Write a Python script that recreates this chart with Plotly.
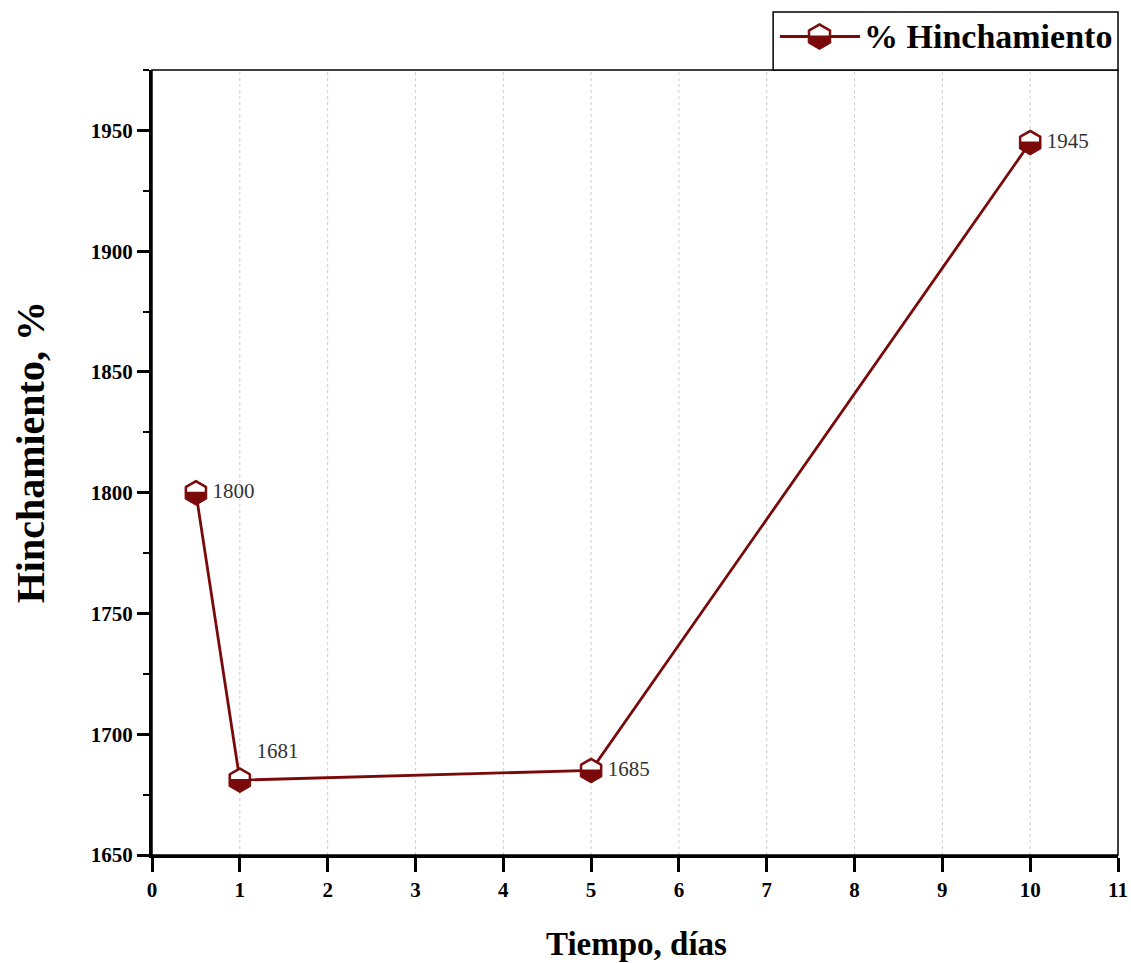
import plotly.graph_objects as go
import math

# ---- data ----
tiempo = [0.5, 1, 5, 10]
hinchamiento = [1800, 1681, 1685, 1945]
etiquetas = ["1800", "1681", "1685", "1945"]
posiciones = ["middle right", "top right", "middle right", "middle right"]
x_ticks = list(range(0, 12))
y_ticks = [1650, 1700, 1750, 1800, 1850, 1900, 1950]
serie = "% Hinchamiento"

DARK = "#7a0a0a"
SERIF = "Liberation Serif, Times New Roman, serif"
MSIZE = 25

fig = go.Figure()

# vertical dotted grid lines
for xv in x_ticks[1:-1]:
    fig.add_shape(type="line", xref="x", yref="paper", x0=xv, x1=xv, y0=0, y1=1,
                  line=dict(color="#cccccc", width=1, dash="dot"), layer="below")

fig.add_trace(go.Scatter(
    x=tiempo, y=hinchamiento, mode="lines+markers+text",
    line=dict(color=DARK, width=2.8),
    marker=dict(symbol="hexagon", size=MSIZE, color=DARK, line=dict(color=DARK, width=1)),
    text=etiquetas, textposition=posiciones,
    textfont=dict(family=SERIF, size=21, color="#333333"),
    showlegend=False, cliponaxis=False,
))

# white upper cap of each hexagon marker (pixel-sized shapes anchored at data points)
r = MSIZE / 2
r3 = r * math.sqrt(3) / 2
cap = (f"M0,{r-2.5:.2f} L{r3-2:.2f},{r/2-1.2:.2f} L{r3-2:.2f},{1:.2f} "
       f"L{-(r3-2):.2f},{1:.2f} L{-(r3-2):.2f},{r/2-1.2:.2f} Z")
for xv, yv in zip(tiempo, hinchamiento):
    fig.add_shape(type="path", xref="x", yref="y", xsizemode="pixel", ysizemode="pixel",
                  xanchor=xv, yanchor=yv, path=cap,
                  fillcolor="white", line=dict(width=0), layer="above")

# thin frame (top/right)
fig.add_shape(type="rect", xref="paper", yref="paper", x0=0, x1=1, y0=0, y1=1,
              line=dict(color="black", width=1.5), layer="below")

# manual legend box
LY = 1.0427
fig.add_shape(type="rect", xref="paper", yref="paper", x0=0.643, x1=1.0, y0=1.0, y1=1.0739,
              line=dict(color="black", width=1.5), fillcolor="white", layer="above")
fig.add_shape(type="line", xref="paper", yref="paper", x0=0.650, x1=0.733, y0=LY, y1=LY,
              line=dict(color=DARK, width=3), layer="above")
rl = 13
rl3 = rl * math.sqrt(3) / 2
hexpath = (f"M{rl3:.2f},{-rl/2:.2f} V{rl/2:.2f} L0,{rl:.2f} L{-rl3:.2f},{rl/2:.2f} "
           f"V{-rl/2:.2f} L0,{-rl:.2f} Z")
capl = (f"M0,{rl-2.5:.2f} L{rl3-2:.2f},{rl/2-1.2:.2f} L{rl3-2:.2f},{1:.2f} "
        f"L{-(rl3-2):.2f},{1:.2f} L{-(rl3-2):.2f},{rl/2-1.2:.2f} Z")
fig.add_shape(type="path", xref="paper", yref="paper", xsizemode="pixel", ysizemode="pixel",
              xanchor=0.691, yanchor=LY, path=hexpath,
              fillcolor=DARK, line=dict(color=DARK, width=1), layer="above")
fig.add_shape(type="path", xref="paper", yref="paper", xsizemode="pixel", ysizemode="pixel",
              xanchor=0.691, yanchor=LY, path=capl,
              fillcolor="white", line=dict(width=0), layer="above")
fig.add_annotation(xref="paper", yref="paper", x=0.735, y=LY, xanchor="left", yanchor="middle",
                   text=f"<b>{serie}</b>", showarrow=False,
                   font=dict(family=SERIF, size=34, color="black"))

# y-axis title as a rotated annotation (slightly above the plot centre, as in the reference)
fig.add_annotation(xref="paper", yref="paper", x=-0.1263, y=0.513, xanchor="center", yanchor="middle",
                   text="<b>Hinchamiento, %</b>", textangle=-90, showarrow=False,
                   font=dict(family=SERIF, size=40, color="black"))

# x-axis title as an annotation
fig.add_annotation(xref="paper", yref="paper", x=0.502, y=-0.113, xanchor="center", yanchor="middle",
                   text="<b>Tiempo, días</b>", showarrow=False,
                   font=dict(family=SERIF, size=33, color="black"))

fig.update_layout(
    width=1131, height=963,
    margin=dict(l=152, r=13, t=70, b=108),
    paper_bgcolor="white", plot_bgcolor="white",
    font=dict(family=SERIF, color="black"),
    xaxis=dict(
        range=[0, 11], tickmode="array", tickvals=x_ticks,
        ticks="outside", ticklen=14, tickwidth=3, tickcolor="black",
        showline=True, linecolor="black", linewidth=3,
        showgrid=False, zeroline=False, automargin=False,
        tickfont=dict(family=SERIF, size=21, color="black", weight="bold"),
    ),
    yaxis=dict(
        range=[1650, 1975], tickmode="array", tickvals=y_ticks,
        ticks="outside", ticklen=12, tickwidth=3, tickcolor="black",
        minor=dict(dtick=25, tick0=1650, ticks="outside", ticklen=6, tickwidth=2, tickcolor="black", showgrid=False),
        showline=True, linecolor="black", linewidth=3,
        showgrid=False, zeroline=False, automargin=False,
        tickfont=dict(family=SERIF, size=21, color="black", weight="bold"),
    ),
)

# remove the browser's default page margin so the figure sits at the window origin
fig.write_html("out.html", config={"displayModeBar": False},
               post_script="document.body.style.margin='0';document.body.style.overflow='hidden';")
